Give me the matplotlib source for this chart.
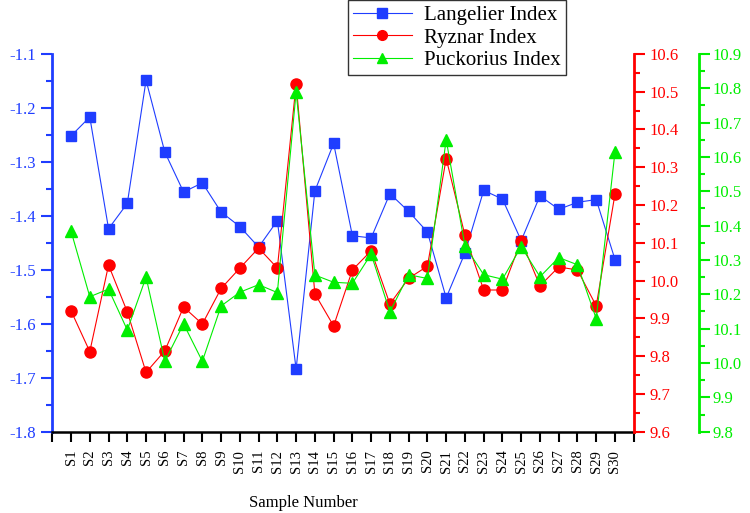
import matplotlib
matplotlib.use("Agg")
import matplotlib.pyplot as plt
from matplotlib.ticker import MultipleLocator, FormatStrFormatter

samples = ["S%d" % i for i in range(1, 31)]

langelier = [-1.252, -1.217, -1.424, -1.377, -1.149, -1.282, -1.356, -1.339, -1.393, -1.420,
             -1.458, -1.409, -1.684, -1.354, -1.266, -1.437, -1.441, -1.359, -1.392, -1.430,
             -1.552, -1.469, -1.353, -1.369, -1.446, -1.363, -1.388, -1.375, -1.370, -1.481]
ryznar = [9.920, 9.812, 10.041, 9.917, 9.757, 9.814, 9.930, 9.885, 9.979, 10.033,
          10.086, 10.033, 10.521, 9.965, 9.880, 10.028, 10.079, 9.938, 10.006, 10.038,
          10.323, 10.120, 9.975, 9.975, 10.106, 9.986, 10.036, 10.028, 9.933, 10.229]
puckorius = [10.384, 10.193, 10.215, 10.096, 10.250, 10.005, 10.114, 10.005, 10.166, 10.206,
             10.228, 10.205, 10.789, 10.256, 10.235, 10.232, 10.317, 10.149, 10.257, 10.246,
             10.650, 10.341, 10.257, 10.244, 10.339, 10.251, 10.307, 10.286, 10.129, 10.615]

plt.rcParams["font.family"] = ["Liberation Serif", "DejaVu Serif"]
plt.rcParams["axes.unicode_minus"] = False

BLUE = "#1f3dff"
RED = "#ff0000"
GREEN = "#00ee00"

fig = plt.figure(figsize=(7.5, 5.13), dpi=100)
ax = fig.add_axes([0.0697, 0.1585, 0.7753, 0.7365])
ax2 = ax.twinx()
ax3 = ax.twinx()
# green axis sits about 65 px right of the red one
ax3.spines["right"].set_position(("outward", 47))

x = list(range(1, 31))
l1, = ax.plot(x, langelier, color=BLUE, lw=0.8, marker="s", ms=7.5, label="Langelier Index")
l2, = ax2.plot(x, ryznar, color=RED, lw=0.8, marker="o", ms=8, label="Ryznar Index")
l3, = ax3.plot(x, puckorius, color=GREEN, lw=0.8, marker="^", ms=9, label="Puckorius Index")

ax.set_xlim(0, 31)
ax.set_xticks(range(0, 32))
ax.set_xticklabels([""] + samples + [""], rotation=90, fontsize=10.5)
# the label is a bit left of the axes centre in the original
fig.text(0.405, 0.02, "Sample Number", fontsize=12, ha="center", va="center")

ax.set_ylim(-1.8, -1.1)
ax.yaxis.set_major_locator(MultipleLocator(0.1))
ax.yaxis.set_minor_locator(MultipleLocator(0.05))
ax.yaxis.set_major_formatter(FormatStrFormatter("%.1f"))

ax2.set_ylim(9.6, 10.6)
ax2.yaxis.set_major_locator(MultipleLocator(0.1))
ax2.yaxis.set_minor_locator(MultipleLocator(0.05))
ax2.yaxis.set_major_formatter(FormatStrFormatter("%.1f"))

ax3.set_ylim(9.8, 10.9)
ax3.yaxis.set_major_locator(MultipleLocator(0.1))
ax3.yaxis.set_minor_locator(MultipleLocator(0.05))
ax3.yaxis.set_major_formatter(FormatStrFormatter("%.1f"))

for a in (ax, ax2, ax3):
    a.spines["top"].set_visible(False)
ax.spines["right"].set_visible(False)
for a in (ax2, ax3):
    a.spines["left"].set_visible(False)
    a.spines["bottom"].set_visible(False)
    a.patch.set_visible(False)

ax.spines["left"].set_color(BLUE)
ax.spines["left"].set_linewidth(2)
ax.spines["bottom"].set_linewidth(1.8)
ax2.spines["right"].set_color(RED)
ax2.spines["right"].set_linewidth(2)
ax3.spines["right"].set_color(GREEN)
ax3.spines["right"].set_linewidth(2)

ax.tick_params(axis="x", which="major", direction="out", length=7, width=1.5, pad=6)
ax.tick_params(axis="y", which="major", direction="out", length=8, width=1.5,
               colors=BLUE, labelsize=12)
ax.tick_params(axis="y", which="minor", direction="out", length=4, width=1.5, colors=BLUE)
ax2.tick_params(axis="y", which="major", direction="out", length=8, width=1.5,
                colors=RED, labelsize=12)
ax2.tick_params(axis="y", which="minor", direction="out", length=4, width=1.5, colors=RED)
ax3.tick_params(axis="y", which="major", direction="out", length=8, width=1.5,
                colors=GREEN, labelsize=12, pad=2)
ax3.tick_params(axis="y", which="minor", direction="out", length=4, width=1.5, colors=GREEN)

leg = fig.legend(handles=[l1, l2, l3], loc="upper left", bbox_to_anchor=(0.464, 1.0),
                 fontsize=15, frameon=True, fancybox=False, edgecolor="black",
                 handlelength=2.8, labelspacing=0.15, borderpad=0.25, handletextpad=0.6,
                 borderaxespad=0)
leg.get_frame().set_linewidth(1.0)
for h in leg.legend_handles:
    h.set_markersize(7)

fig.savefig("out.png", dpi=100)
